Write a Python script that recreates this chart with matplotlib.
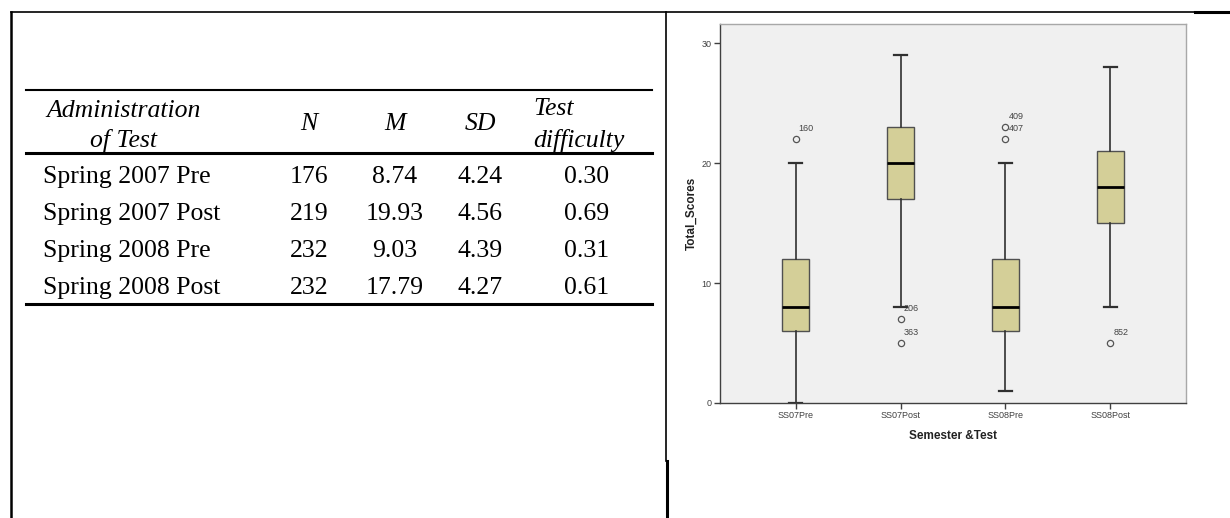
"""Table of test scores next to the SPSS box plot of Total_Scores."""

import matplotlib
matplotlib.use("Agg")
import matplotlib.pyplot as plt

# ---- table values ----
admin = ["Spring 2007 Pre", "Spring 2007 Post", "Spring 2008 Pre", "Spring 2008 Post"]
n_vals = ["176", "219", "232", "232"]
m_vals = ["8.74", "19.93", "9.03", "17.79"]
sd_vals = ["4.24", "4.56", "4.39", "4.27"]
diff_vals = ["0.30", "0.69", "0.31", "0.61"]

# ---- box plot values ----
groups = ["SS07Pre", "SS07Post", "SS08Pre", "SS08Post"]
whis_lo = [0, 8, 1, 8]
q1 = [6, 17, 6, 15]
med = [8, 20, 8, 18]
q3 = [12, 23, 12, 21]
whis_hi = [20, 29, 20, 28]
outliers = [[22], [7, 5], [23, 22], [5]]
outlier_ids = [["160"], ["206", "363"], ["409", "407"], ["852"]]

W, H = 1230, 518
fig = plt.figure(figsize=(W / 100, H / 100), dpi=100)

# page layer in pixel coordinates (frame lines + table)
page = fig.add_axes([0, 0, 1, 1])
page.set_xlim(0, W)
page.set_ylim(H, 0)
page.axis("off")

# frame of the document table
page.plot([11, 1195], [12, 12], color="black", lw=1.2)
page.plot([1195, 1230], [12, 12], color="black", lw=2.2)
page.plot([11, 11], [12, H], color="black", lw=1.8)
page.plot([666, 666], [12, 461], color="black", lw=1.2)
page.plot([667, 667], [461, H], color="black", lw=2.2)

# table rules
page.plot([26, 652], [90, 90], color="black", lw=1.5)
page.plot([26, 652], [153, 153], color="black", lw=2.2)
page.plot([26, 652], [304, 304], color="black", lw=2.2)

serif = "Liberation Serif"
fs = 18.5
col_n, col_m, col_sd, col_diff = 309, 395, 480, 587

page.text(124, 117, "Administration", ha="center", va="baseline",
          family=serif, style="italic", fontsize=fs)
page.text(124, 147, "of Test", ha="center", va="baseline",
          family=serif, style="italic", fontsize=fs)
for x, lab in zip([col_n, col_m, col_sd], ["N", "M", "SD"]):
    page.text(x, 130, lab, ha="center", va="baseline",
              family=serif, style="italic", fontsize=fs)
page.text(533, 115, "Test", ha="left", va="baseline",
          family=serif, style="italic", fontsize=fs)
page.text(533, 147, "difficulty", ha="left", va="baseline",
          family=serif, style="italic", fontsize=fs)

for i in range(len(admin)):
    yb = 183 + i * 37
    page.text(43, yb, admin[i], ha="left", va="baseline", family=serif, fontsize=fs)
    page.text(col_n, yb, n_vals[i], ha="center", va="baseline", family=serif, fontsize=fs)
    page.text(col_m, yb, m_vals[i], ha="center", va="baseline", family=serif, fontsize=fs)
    page.text(col_sd, yb, sd_vals[i], ha="center", va="baseline", family=serif, fontsize=fs)
    page.text(col_diff, yb, diff_vals[i], ha="center", va="baseline", family=serif, fontsize=fs)

# ---- box plot ----
left, right, top, bottom = 720, 1186, 24, 403
ax = fig.add_axes([left / W, 1 - bottom / H, (right - left) / W, (bottom - top) / H])
ax.set_facecolor("#f0f0f0")

stats = []
for i in range(len(groups)):
    stats.append({
        "label": groups[i],
        "whislo": whis_lo[i],
        "q1": q1[i],
        "med": med[i],
        "q3": q3[i],
        "whishi": whis_hi[i],
        "fliers": outliers[i],
    })

ax.bxp(
    stats,
    positions=range(len(groups)),
    widths=0.254,
    capwidths=0.125,
    patch_artist=True,
    boxprops=dict(facecolor="#d4cf98", edgecolor="#505050", linewidth=1.0),
    medianprops=dict(color="black", linewidth=2.0),
    whiskerprops=dict(color="#303030", linewidth=1.2),
    capprops=dict(color="#303030", linewidth=1.6),
    flierprops=dict(marker="o", markerfacecolor="none", markeredgecolor="#555555",
                    markersize=4.5, markeredgewidth=0.9),
)

for i in range(len(groups)):
    for y, lab in zip(outliers[i], outlier_ids[i]):
        ax.text(i + 0.03, y + 0.9, lab, ha="left", va="center",
                fontsize=6.5, color="#444444", family="Liberation Sans")

ax.set_xlim(-0.72, 3.72)
ax.set_ylim(0, 31.6)
ax.set_yticks([0, 10, 20, 30])
ax.set_xticks(range(len(groups)))
ax.set_xticklabels(groups)

for side in ["left", "bottom"]:
    ax.spines[side].set_color("#404040")
    ax.spines[side].set_linewidth(1.0)
for side in ["top", "right"]:
    ax.spines[side].set_color("#a8a8a8")
    ax.spines[side].set_linewidth(1.0)

ax.tick_params(length=4, width=1, color="#404040", labelsize=6.5,
               labelcolor="#404040", pad=2)
for lab in ax.get_xticklabels() + ax.get_yticklabels():
    lab.set_family("Liberation Sans")

ax.set_xlabel("Semester &Test", fontsize=8.5, fontweight="bold",
              family="Liberation Sans", color="#222222")
ax.xaxis.set_label_coords(0.5, -0.072)
ax.set_ylabel("Total_Scores", fontsize=8.5, fontweight="bold",
              family="Liberation Sans", color="#222222")
ax.yaxis.set_label_coords(-0.047, 0.5)

fig.savefig("out.png", dpi=100, facecolor="white")
